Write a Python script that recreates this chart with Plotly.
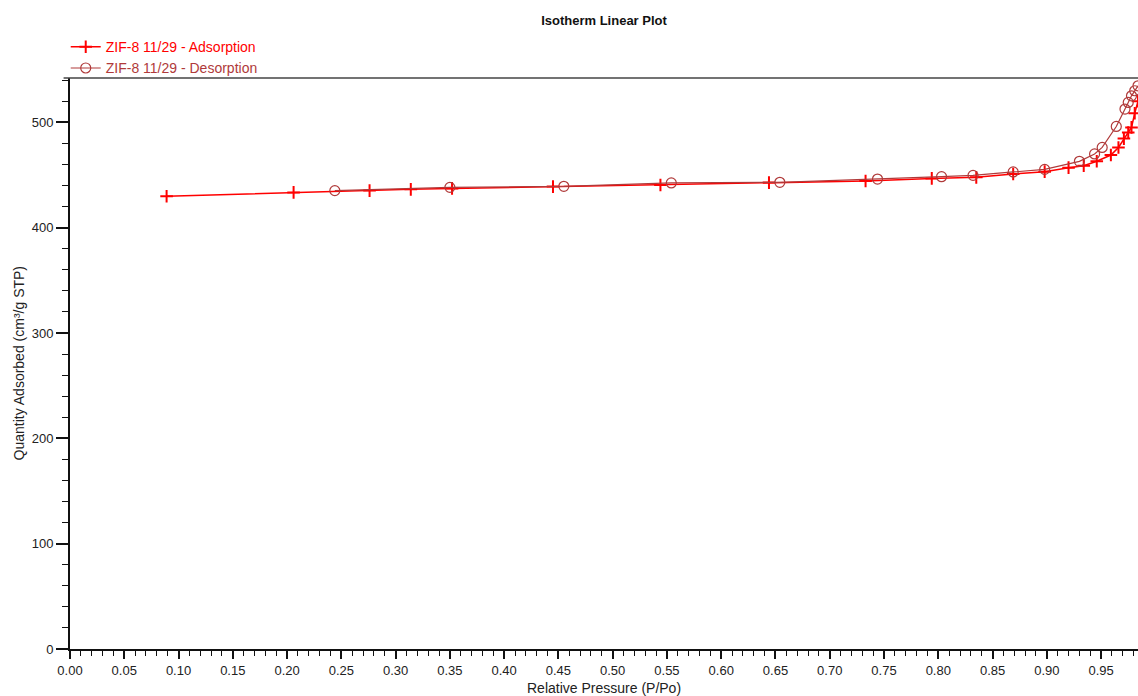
import plotly.graph_objects as go

# adsorption branch (relative pressure, quantity adsorbed)
ads_p = [0.089, 0.206, 0.276, 0.314, 0.352, 0.445, 0.544, 0.644, 0.733, 0.794,
         0.835, 0.869, 0.898, 0.920, 0.934, 0.946, 0.959, 0.966, 0.971, 0.975,
         0.978, 0.981, 0.984]
ads_q = [429.7, 433.4, 435.1, 436.3, 437.2, 438.9, 440.5, 442.7, 444.2, 446.7,
         447.7, 450.9, 453.1, 456.9, 458.8, 463.0, 468.9, 476.0, 484.5, 490.3,
         495.1, 508.5, 520.0]

# desorption branch
des_p = [0.984, 0.981, 0.978, 0.975, 0.972, 0.964, 0.951, 0.944, 0.930, 0.898,
         0.869, 0.832, 0.803, 0.744, 0.654, 0.554, 0.455, 0.350, 0.244]
des_q = [534.6, 529.9, 525.1, 518.8, 512.5, 496.0, 476.1, 469.9, 462.9, 455.3,
         452.8, 449.6, 448.3, 446.1, 443.0, 442.4, 439.2, 438.2, 435.1]

x_ticks = [round(i * 0.05, 2) for i in range(20)]
y_ticks = [0, 100, 200, 300, 400, 500]

red = "#ff0000"
brown = "#b03a3a"
fnt = "Liberation Sans, Arial, sans-serif"

fig = go.Figure()
fig.add_trace(go.Scatter(
    x=ads_p, y=ads_q, mode="lines+markers",
    name='<span style="color:#ff0000">ZIF-8 11/29 - Adsorption</span>',
    line=dict(color=red, width=1.5),
    marker=dict(symbol="cross-thin", size=9, line=dict(color=red, width=2))
))
fig.add_trace(go.Scatter(
    x=des_p, y=des_q, mode="lines+markers",
    name='<span style="color:#b03a3a">ZIF-8 11/29 - Desorption</span>',
    line=dict(color=brown, width=1.2),
    marker=dict(symbol="circle-open", size=10, color=brown, line=dict(color=brown, width=1.2))
))

fig.update_layout(
    width=1138, height=696,
    margin=dict(l=70, r=0, t=78, b=47),
    paper_bgcolor="white", plot_bgcolor="white",
    font=dict(family=fnt, size=13, color="#222"),
    title=dict(text="<b>Isotherm Linear Plot</b>", x=0.5, xref="paper",
               y=1 - 20 / 696, yref="container", yanchor="middle",
               font=dict(size=13, color="#111")),
    showlegend=True,
    legend=dict(x=-0.004, xanchor="left", y=1.082, yanchor="top",
                bgcolor="rgba(0,0,0,0)", font=dict(size=14),
                tracegroupgap=0, itemwidth=30),
    xaxis=dict(range=[0, 0.984], tickvals=x_ticks, tickformat=".2f",
               ticks="outside", ticklen=8, tickwidth=1.5, tickcolor="#111",
               showline=True, linecolor="#111", linewidth=2,
               showgrid=False, zeroline=False,
               minor=dict(dtick=0.01, ticks="outside", ticklen=5,
                          tickwidth=1, tickcolor="#111")),
    yaxis=dict(range=[0, 542], tickvals=y_ticks,
               ticks="outside", ticklen=12, tickwidth=1.5, tickcolor="#111",
               showline=True, linecolor="#111", linewidth=2,
               showgrid=False, zeroline=False,
               minor=dict(dtick=20, ticks="outside", ticklen=6,
                          tickwidth=1, tickcolor="#111")),
)

# top border of the plot frame
fig.add_shape(type="line", xref="paper", yref="paper",
              x0=-0.006, x1=1, y0=1, y1=1,
              line=dict(color="#444", width=1.5))

# axis titles
fig.add_annotation(text="Relative Pressure (P/Po)", xref="paper", yref="paper",
                   x=0.5, y=-(688 - 649) / 571, yanchor="middle",
                   showarrow=False, font=dict(size=14, color="#222"))
fig.add_annotation(text="Quantity Adsorbed (cm³/g STP)", xref="paper", yref="paper",
                   x=-(70 - 18) / 1068, y=0.5, xanchor="center", textangle=-90,
                   showarrow=False, font=dict(size=14, color="#222"))

# page body margin off so the figure sits at the window corner
fig.write_html("out.html", config={"displayModeBar": False},
               post_script="document.body.style.margin='0';document.body.style.overflow='hidden';")
